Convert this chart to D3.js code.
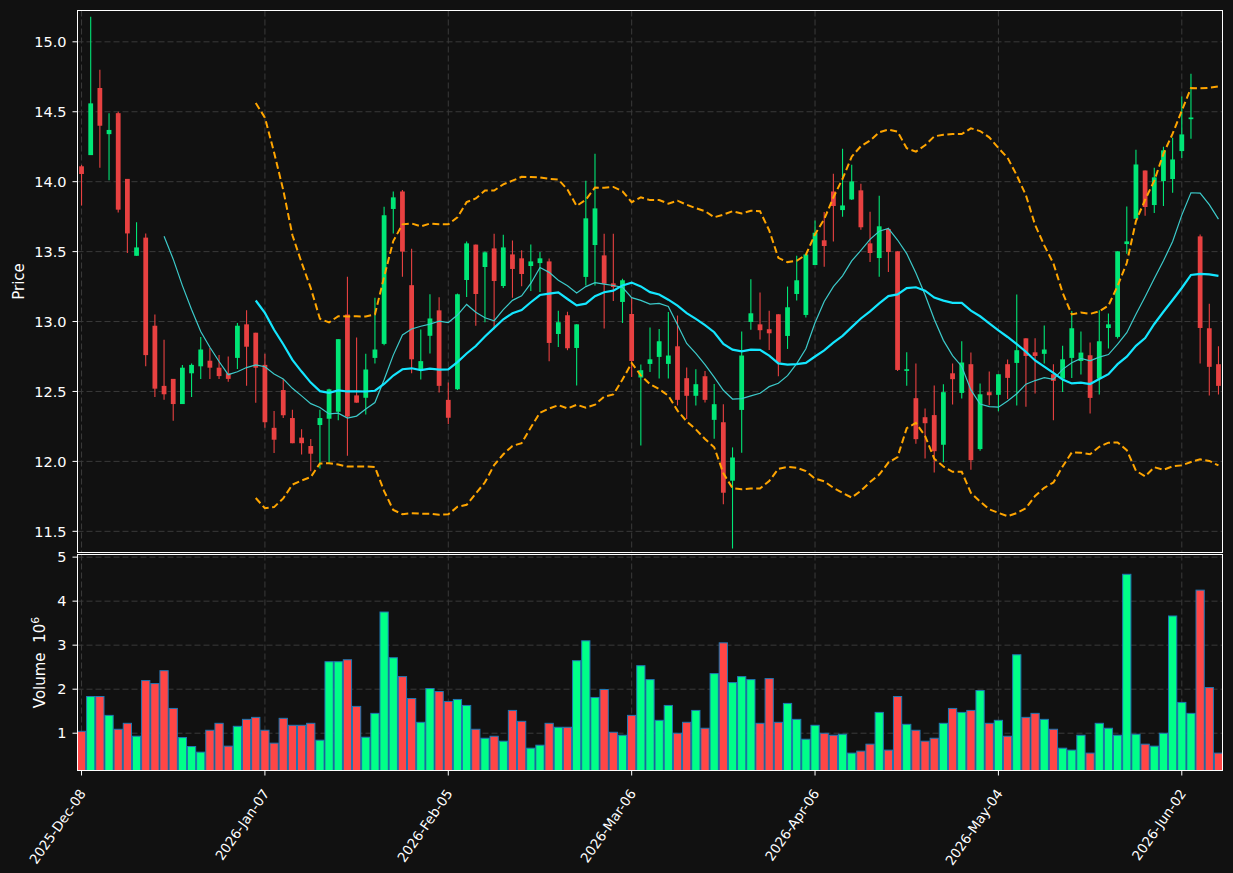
<!DOCTYPE html>
<html><head><meta charset="utf-8">
<script src="https://cdn.jsdelivr.net/npm/d3@7"></script>
<style>html,body{margin:0;padding:0;background:#111111;}svg{display:block;font-family:"DejaVu Sans",sans-serif;}</style>
</head><body><svg id="chart" width="1233" height="873"></svg>
<script>
// ---------- data (price in $, volume in millions) ----------
const opens = [14.11,14.19,14.67,14.34,14.49,14.02,13.47,13.60,12.97,12.54,12.59,12.41,12.63,12.68,12.72,12.67,12.63,12.74,12.98,12.92,
12.69,12.24,12.51,12.31,12.17,12.11,12.26,12.305,12.355,13.05,12.472,12.455,12.74,12.84,13.805,13.93,13.26,12.66,12.898,13.08,
12.44,12.516,13.297,13.55,13.39,13.523,13.254,13.48,13.452,13.397,13.418,13.43,12.911,13.045,12.811,13.319,13.547,13.473,13.273,13.14,
13.054,12.60,12.697,12.747,12.697,12.823,12.595,12.469,12.609,12.297,12.28,11.862,12.368,12.997,12.98,12.945,13.052,12.897,13.197,13.047,
13.404,13.581,13.93,13.797,13.873,13.938,13.559,13.454,13.662,13.502,12.647,12.452,12.316,12.331,12.119,12.63,12.49,12.695,12.088,12.495,
12.476,12.695,12.704,12.88,12.78,12.769,12.623,12.592,12.74,12.718,12.759,12.592,12.954,12.89,13.554,13.735,14.08,13.833,14.004,14.019,
14.219,14.447,13.609,12.952,12.695];
const highs = [14.12,15.18,14.80,14.49,14.50,14.02,13.71,13.63,13.05,12.87,12.59,12.69,12.70,12.89,12.81,12.76,12.75,12.99,13.08,12.92,
12.77,12.36,12.59,12.37,12.23,12.16,12.37,12.52,12.874,13.32,12.886,12.77,13.17,13.82,13.93,13.94,13.52,12.943,13.195,13.174,
12.565,13.20,13.573,13.55,13.50,13.628,13.621,13.58,13.509,13.55,13.497,13.45,13.078,13.07,12.98,14.006,14.20,13.628,13.628,13.306,
13.176,12.692,12.957,12.947,13.069,13.043,12.671,12.659,12.647,12.554,12.409,12.10,12.928,13.302,13.207,13.078,13.052,13.25,13.471,13.48,
13.723,13.783,14.057,14.235,14.121,13.985,13.785,13.90,13.67,13.502,12.78,12.70,12.378,12.543,12.552,12.70,12.859,12.778,12.557,12.642,
12.623,12.728,13.193,12.88,12.88,12.971,12.695,12.826,13.076,12.928,12.85,13.08,13.057,13.502,13.823,14.228,14.08,14.10,14.25,14.314,
14.609,14.771,13.623,13.128,12.823];
const lows = [13.83,14.19,14.10,14.01,13.78,13.49,13.47,12.68,12.46,12.44,12.29,12.41,12.46,12.59,12.59,12.59,12.57,12.66,12.54,12.42,
12.24,12.06,12.31,12.13,12.05,11.93,11.95,11.99,12.295,12.04,12.42,12.336,12.70,12.83,13.63,13.32,12.63,12.586,12.772,12.493,
12.267,12.51,13.176,12.97,12.995,12.945,13.24,13.17,13.252,13.218,13.211,12.716,12.818,12.795,12.542,13.257,13.257,12.95,13.147,12.99,
12.604,12.114,12.64,12.592,12.592,12.40,12.304,12.40,12.421,12.162,11.693,11.378,12.061,12.942,12.871,12.797,12.609,12.804,13.15,13.028,
13.404,13.392,13.573,13.75,13.869,13.657,13.426,13.321,13.354,12.647,12.54,12.126,12.021,11.92,11.993,12.407,12.45,11.94,12.076,12.402,
12.359,12.447,12.40,12.39,12.485,12.70,12.295,12.497,12.597,12.621,12.343,12.478,12.807,12.878,13.485,13.735,13.757,13.776,13.826,13.921,
14.169,14.307,12.70,12.471,12.478];
const closes = [14.055,14.56,14.40,14.37,13.80,13.63,13.53,12.76,12.52,12.48,12.41,12.67,12.69,12.80,12.67,12.61,12.59,12.97,12.82,12.67,
12.28,12.155,12.33,12.13,12.13,12.055,12.31,12.515,12.874,12.32,12.42,12.657,12.80,13.76,13.888,13.50,12.73,12.717,13.022,12.54,
12.312,13.195,13.559,13.197,13.495,13.29,13.53,13.376,13.34,13.43,13.452,12.847,12.995,12.809,12.98,13.738,13.809,13.27,13.247,13.295,
12.718,12.652,12.73,12.859,12.757,12.44,12.469,12.552,12.44,12.409,11.776,12.028,12.757,13.059,12.938,12.916,12.707,13.102,13.295,13.48,
13.635,13.54,13.826,13.83,14.002,13.674,13.49,13.681,13.497,12.654,12.659,12.159,12.273,12.073,12.495,12.588,12.707,12.009,12.48,12.473,
12.623,12.597,12.795,12.754,12.754,12.80,12.576,12.73,12.952,12.778,12.454,12.859,12.98,13.502,13.573,14.123,13.819,14.031,14.224,14.159,
14.338,14.459,12.954,12.676,12.54];
const volumes = [1.044,1.834,1.834,1.405,1.09,1.225,0.932,2.196,2.128,2.421,1.563,0.901,0.698,0.57,1.067,1.225,0.706,1.157,1.315,1.36,
1.067,0.774,1.338,1.18,1.18,1.225,0.841,2.624,2.624,2.669,1.609,0.909,1.451,3.753,2.715,2.286,1.789,1.248,2.015,1.947,
1.722,1.767,1.631,1.09,0.886,0.931,0.819,1.518,1.27,0.66,0.728,1.225,1.135,1.135,2.647,3.099,1.812,1.993,1.022,0.954,
1.405,2.534,2.218,1.293,1.631,0.999,1.248,1.518,1.113,2.354,3.053,2.15,2.286,2.218,1.225,2.241,1.248,1.677,1.315,0.864,
1.18,0.999,0.954,0.977,0.548,0.593,0.751,1.473,0.616,1.834,1.202,1.067,0.819,0.886,1.225,1.563,1.473,1.518,1.97,1.225,
1.293,0.931,2.782,1.36,1.451,1.315,1.09,0.66,0.616,0.954,0.548,1.225,1.113,0.954,4.61,0.977,0.751,0.706,0.999,3.663,
1.7,1.451,4.25,2.037,0.548];
const tickIndex = [0,20,40,60,80,100,120];
const tickLabels = ["2025-Dec-08","2026-Jan-07","2026-Feb-05","2026-Mar-06","2026-Apr-06","2026-May-04","2026-Jun-02"];
const priceTicks = [11.5,12.0,12.5,13.0,13.5,14.0,14.5,15.0];
const volTicks = [1,2,3,4,5];
const mavShort = 10, mavLong = 20, bbMult = 2;

// ---------- layout ----------
const L = 77.5, R = 1222.5, PT = 10.5, PB = 552.5, VT = 554.5, VB = 770.5;
const n = closes.length;
const svg = d3.select("#chart");
const x = d3.scaleLinear().domain([-0.44, n - 1 + 0.44]).range([L, R]);
const y = d3.scaleLinear().domain([11.345, 15.224]).range([553, PT]);
const vmin = 0.3 * d3.min(volumes), vmax = 1.1 * d3.max(volumes);
const yv = d3.scaleLinear().domain([vmin, vmax]).range([770, 554]);
const step = x(1) - x(0);

const UP = "#00e676", DN = "#e84141", VUP = "#00ff88", VDN = "#ff4646";
const GRID = "#3a3a3a";

svg.append("rect").attr("width",1233).attr("height",873).attr("fill","#111111");
const defs = svg.append("defs");
defs.append("clipPath").attr("id","cp").append("rect").attr("x",L).attr("y",PT).attr("width",R-L).attr("height",PB-PT);
defs.append("clipPath").attr("id","cv").append("rect").attr("x",L).attr("y",VT).attr("width",R-L).attr("height",VB-VT);

// grid
const g = svg.append("g");
tickIndex.forEach(t => {
  g.append("line").attr("x1",x(t)).attr("x2",x(t)).attr("y1",PT).attr("y2",PB).attr("stroke",GRID).attr("stroke-dasharray","6,3");
  g.append("line").attr("x1",x(t)).attr("x2",x(t)).attr("y1",VT).attr("y2",VB).attr("stroke",GRID).attr("stroke-dasharray","6,3");
});
priceTicks.forEach(t => g.append("line").attr("x1",L).attr("x2",R).attr("y1",y(t)).attr("y2",y(t)).attr("stroke",GRID).attr("stroke-dasharray","6,3"));
volTicks.forEach(t => g.append("line").attr("x1",L).attr("x2",R).attr("y1",yv(t)).attr("y2",yv(t)).attr("stroke",GRID).attr("stroke-dasharray","6,3"));

// volume bars
const idx = d3.range(n);
const up = i => closes[i] >= opens[i];
svg.append("g").attr("clip-path","url(#cv)").selectAll("rect").data(idx).join("rect")
  .attr("x", i => x(i) - step*0.45).attr("width", step*0.9)
  .attr("y", i => yv(volumes[i])).attr("height", i => VB + 5 - yv(volumes[i]))
  .attr("fill", i => up(i) ? VUP : VDN).attr("stroke","#1f77b4").attr("stroke-width",1);

// candles
const pc = svg.append("g").attr("clip-path","url(#cp)");
pc.selectAll("line.w").data(idx).join("line").attr("class","w")
  .attr("x1", i => x(i)).attr("x2", i => x(i)).attr("y1", i => y(highs[i])).attr("y2", i => y(lows[i]))
  .attr("stroke", i => up(i) ? UP : DN).attr("stroke-width",1.1);
pc.selectAll("rect.b").data(idx).join("rect").attr("class","b")
  .attr("x", i => x(i) - step*0.26).attr("width", step*0.52)
  .attr("y", i => y(Math.max(opens[i],closes[i])))
  .attr("height", i => Math.max(1.2, Math.abs(y(opens[i]) - y(closes[i]))))
  .attr("fill", i => up(i) ? UP : DN);

// moving averages & bollinger
function sma(k){ return idx.map(i => i < k-1 ? null : d3.mean(closes.slice(i-k+1,i+1))); }
function sd(k){ return idx.map(i => { if (i < k-1) return null; const s = closes.slice(i-k+1,i+1), m = d3.mean(s); return Math.sqrt(d3.mean(s.map(v => (v-m)*(v-m)))); }); }
const ma10 = sma(mavShort), ma20 = sma(mavLong), sd20 = sd(mavLong);
const bbUp = idx.map(i => ma20[i] == null ? null : ma20[i] + bbMult*sd20[i]);
const bbLo = idx.map(i => ma20[i] == null ? null : ma20[i] - bbMult*sd20[i]);
const line = arr => d3.line().defined(i => arr[i] != null).x(i => x(i)).y(i => y(arr[i]))(idx);
pc.append("path").attr("d", line(ma10)).attr("fill","none").attr("stroke","#3ccaca").attr("stroke-width",1.2);
pc.append("path").attr("d", line(ma20)).attr("fill","none").attr("stroke","#14e6ff").attr("stroke-width",2.2);
pc.append("path").attr("d", line(bbUp)).attr("fill","none").attr("stroke","#ffa500").attr("stroke-width",2).attr("stroke-dasharray","7,3.5");
pc.append("path").attr("d", line(bbLo)).attr("fill","none").attr("stroke","#ffa500").attr("stroke-width",2).attr("stroke-dasharray","7,3.5");

// spines
svg.append("rect").attr("x",L).attr("y",PT).attr("width",R-L).attr("height",PB-PT).attr("fill","none").attr("stroke","#ffffff").attr("stroke-width",1);
svg.append("rect").attr("x",L).attr("y",VT).attr("width",R-L).attr("height",VB-VT).attr("fill","none").attr("stroke","#ffffff").attr("stroke-width",1);

// axes
const fs = "14.5px";
const ax = svg.append("g").attr("fill","#ffffff").style("font-size",fs);
priceTicks.forEach(t => {
  ax.append("line").attr("x1",L-5).attr("x2",L).attr("y1",y(t)).attr("y2",y(t)).attr("stroke","#ffffff");
  ax.append("text").attr("x",L-11).attr("y",y(t)).attr("dy","0.36em").attr("text-anchor","end").text(d3.format(".1f")(t));
});
volTicks.forEach(t => {
  ax.append("line").attr("x1",L-5).attr("x2",L).attr("y1",yv(t)).attr("y2",yv(t)).attr("stroke","#ffffff");
  ax.append("text").attr("x",L-11).attr("y",yv(t)).attr("dy","0.36em").attr("text-anchor","end").text(t);
});
tickIndex.forEach((t,k) => {
  ax.append("line").attr("x1",x(t)).attr("x2",x(t)).attr("y1",VB).attr("y2",VB+5).attr("stroke","#ffffff");
  ax.append("text").attr("transform",`translate(${x(t)+5},${VB+23}) rotate(-55)`).attr("text-anchor","end")
    .style("font-size","13.5px").text(tickLabels[k]);
});
svg.append("text").attr("transform",`translate(24,${(PT+PB)/2}) rotate(-90)`).attr("text-anchor","middle")
  .attr("fill","#ffffff").style("font-size","15px").text("Price");
const vl = svg.append("text").attr("transform",`translate(45,${(VT+VB)/2}) rotate(-90)`).attr("text-anchor","middle")
  .attr("fill","#ffffff").style("font-size","15px");
vl.append("tspan").text("Volume\u00a0\u00a010");
vl.append("tspan").attr("dy","-6").style("font-size","11px").text("6");
</script></body></html>
